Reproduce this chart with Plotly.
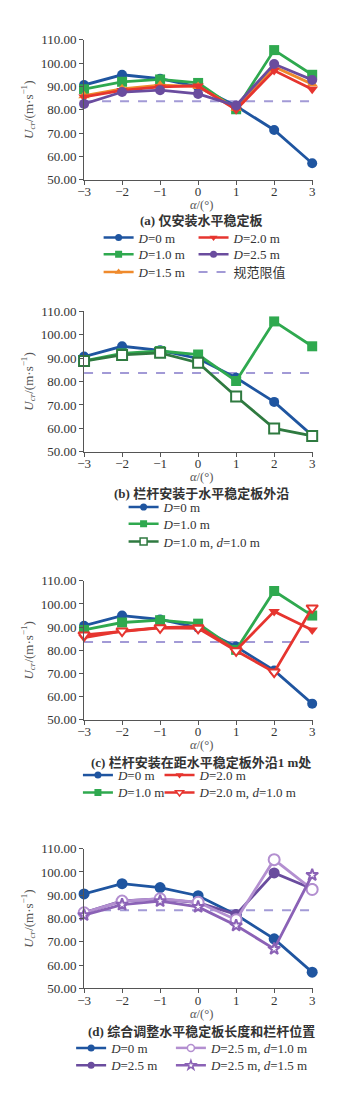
import plotly.graph_objects as go

# ---------------- data ----------------
alpha = [-3, -2, -1, 0, 1, 2, 3]
y_ticks = [50, 60, 70, 80, 90, 100, 110]
x_ticks = [-3, -2, -1, 0, 1, 2, 3]
limit_value = 83.6

D0 = [90.6, 95.0, 93.3, 89.8, 81.6, 71.3, 57.0]
D1 = [88.8, 92.0, 93.0, 91.5, 80.2, 105.6, 95.0]
D15 = [86.0, 89.0, 90.5, 90.0, 80.5, 98.5, 91.0]
D2 = [85.5, 88.3, 89.8, 90.2, 80.0, 96.8, 88.8]
D25 = [82.5, 87.6, 88.4, 86.8, 81.8, 99.6, 92.8]
D1_d1 = [88.7, 91.3, 92.2, 88.0, 73.6, 60.0, 56.8]
D2_d1 = [86.6, 88.3, 89.7, 89.5, 79.8, 70.6, 98.3]
D25_d1 = [82.5, 87.5, 88.5, 87.0, 79.5, 105.3, 92.5]
D25_d15 = [81.5, 86.0, 87.5, 85.0, 77.0, 67.0, 98.7]

captions = ["(a) 仅安装水平稳定板", "(b) 栏杆安装于水平稳定板外沿",
            "(c) 栏杆安装在距水平稳定板外沿1 m处", "(d) 综合调整水平稳定板长度和栏杆位置"]

# ---------------- style ----------------
W, H = 352, 1102
SERIF = "Liberation Serif, Noto Sans CJK SC"
BLUE = "#1f55a0"
GREEN = "#2fa94f"
ORANGE = "#ef8a2c"
RED = "#e6352f"
PURPLE = "#6a4c9e"
DASH = "#a29ad6"
DKGREEN = "#2f7a40"
LPURPLE = "#b38fd0"
SPURPLE = "#8b62b6"

# plot areas in pixel coords (top, bottom)
panels_px = [(33.3, 175.0), (308.3, 451.0), (581.7, 722.7), (853.3, 995.0)]
x_px = (79.3, 314.5)
xtitle_y = [200.5, 476.5, 748.2, 1021.0]
caption_y = [216.5, 493.5, 766.0, 1038.5]

fig = go.Figure()

def px2x(p):
    return p / W

def px2y(p):
    return 1 - p / H

# series definitions per panel: (name, y, color, symbol, open, legend_pos)
panel_series = [
    [
        ("<i>D</i>=0 m", D0, BLUE, "circle", False, (137.3, 235.7)),
        ("<i>D</i>=1.0 m", D1, GREEN, "square", False, (137.3, 252.8)),
        ("<i>D</i>=1.5 m", D15, ORANGE, "triangle-up", False, (137.3, 270.7)),
        ("<i>D</i>=2.0 m", D2, RED, "triangle-down", False, (235.0, 235.7)),
        ("<i>D</i>=2.5 m", D25, PURPLE, "circle", False, (235.0, 252.8)),
    ],
    [
        ("<i>D</i>=0 m", D0, BLUE, "circle", False, (163.0, 509.0)),
        ("<i>D</i>=1.0 m", D1, GREEN, "square", False, (163.0, 526.0)),
        ("<i>D</i>=1.0 m, <i>d</i>=1.0 m", D1_d1, DKGREEN, "square-open", True, (163.0, 544.0)),
    ],
    [
        ("<i>D</i>=0 m", D0, BLUE, "circle", False, (116.0, 780.7)),
        ("<i>D</i>=1.0 m", D1, GREEN, "square", False, (116.0, 798.3)),
        ("<i>D</i>=2.0 m", D2, RED, "triangle-down", False, (200.0, 780.7)),
        ("<i>D</i>=2.0 m, <i>d</i>=1.0 m", D2_d1, RED, "triangle-down-open", True, (200.0, 798.3)),
    ],
    [
        ("<i>D</i>=0 m", D0, BLUE, "circle", False, (109.0, 1057.3)),
        ("<i>D</i>=2.5 m", D25, PURPLE, "circle", False, (109.0, 1075.0)),
        ("<i>D</i>=2.5 m, <i>d</i>=1.0 m", D25_d1, LPURPLE, "circle-open", True, (211.7, 1057.3)),
        ("<i>D</i>=2.5 m, <i>d</i>=1.5 m", D25_d15, SPURPLE, "star-open", True, (211.7, 1075.0)),
    ],
]

legend_count = [0]
legend_layouts = {}

def new_legend(text_x, row_y):
    legend_count[0] += 1
    n = legend_count[0]
    key = "legend" if n == 1 else f"legend{n}"
    legend_layouts[key] = dict(
        x=px2x(text_x - 43), y=px2y(row_y - 2), xanchor="left", yanchor="middle",
        bgcolor="rgba(0,0,0,0)", borderwidth=0, itemwidth=30,
        font=dict(family=SERIF, size=13, color="#333333"),
        tracegroupgap=0, itemclick=False, itemdoubleclick=False,
    )
    return key

for i, series in enumerate(panels_px):
    top, bot = series
    ax = "" if i == 0 else str(i + 1)
    xa, ya = "x" + ax, "y" + ax
    tick_ax = str(i + 5)          # overlay axis that only draws the outside tick marks
    # limit line
    fig.add_trace(go.Scatter(
        x=[alpha[0], alpha[-1] + 0.2], y=[limit_value, limit_value], mode="lines",
        line=dict(color=DASH, width=2, dash="dash"), xaxis=xa, yaxis=ya,
        showlegend=False, hoverinfo="skip", cliponaxis=False))
    for name, yv, col, sym, is_open, lpos in panel_series[i]:
        if "star" in sym:
            msize = 9
        elif i == 3:
            msize = 11
        else:
            msize = 10
        fig.add_trace(go.Scatter(
            x=alpha, y=yv, mode="lines+markers", xaxis=xa, yaxis=ya,
            line=dict(color=col, width=2.8),
            marker=dict(symbol=sym.replace("-open", ""), size=msize,
                        color="white" if is_open else col,
                        line=dict(color=col, width=2 if is_open else 0)),
            showlegend=False, cliponaxis=False, name=name))
        # legend-only entry
        key = new_legend(*lpos)
        fig.add_trace(go.Scatter(
            x=[None], y=[None], mode="lines+markers", xaxis=xa, yaxis=ya,
            line=dict(color=col, width=2.5),
            marker=dict(symbol=sym.replace("-open", ""), size=7,
                        color="white" if is_open else col,
                        line=dict(color=col, width=1.5 if is_open else 0)),
            name=name, legend=key, showlegend=True))
    if i == 0:
        key = new_legend(235.0, 270.7)
        fig.add_trace(go.Scatter(
            x=[None], y=[None], mode="lines", xaxis=xa, yaxis=ya,
            line=dict(color=DASH, width=2, dash="dash"),
            name="规范限值", legend=key, showlegend=True))
    # empty trace binding the tick-mark overlay axis
    fig.add_trace(go.Scatter(x=[None], y=[None], xaxis="x" + tick_ax, yaxis=ya,
                             showlegend=False, hoverinfo="skip"))

    axis_common = dict(showline=True, linecolor="#555555", linewidth=1,
                       showgrid=False, zeroline=False,
                       tickfont=dict(family=SERIF, size=13, color="#333333"))
    fig.layout["xaxis" + ax] = dict(
        domain=[px2x(x_px[0]), px2x(x_px[1])], range=[-3, 3.01], anchor=ya,
        ticks="", tickvals=x_ticks,
        ticktext=[("−" + str(-t)) if t < 0 else str(t) for t in x_ticks],
        **axis_common)
    fig.layout["xaxis" + tick_ax] = dict(
        domain=[px2x(x_px[0]), px2x(x_px[1])], range=[-3, 3.01], anchor=ya,
        overlaying=xa, side="bottom", ticks="outside", ticklen=4, tickcolor="#555555",
        tickvals=x_ticks, showticklabels=False, showline=False, showgrid=False,
        zeroline=False)
    fig.layout["yaxis" + ax] = dict(
        domain=[px2y(bot), px2y(top)], range=[50, 110], anchor=xa,
        ticks="outside", ticklen=4, tickcolor="#555555",
        tickvals=y_ticks, ticktext=[f"{t:.2f}" for t in y_ticks],
        title=dict(text="<i>U</i><sub><i>cr</i></sub>/(m·s<sup>−1</sup>)",
                   font=dict(family=SERIF, size=13, color="#555555"), standoff=4),
        **axis_common)
    # x axis title
    fig.add_annotation(
        text="<i>α</i>/(°)", x=200 / W, y=px2y(xtitle_y[i]),
        xref="paper", yref="paper", xanchor="center", yanchor="middle", showarrow=False,
        font=dict(family=SERIF, size=12.5, color="#555555"))
    fig.add_annotation(
        text="<b>" + captions[i] + "</b>", x=200 / W, y=px2y(caption_y[i]),
        xref="paper", yref="paper", xanchor="center", yanchor="middle", showarrow=False,
        font=dict(family=SERIF, size=13, color="#333333"))

fig.update_layout(width=W, height=H, margin=dict(l=0, r=0, t=0, b=0),
                  paper_bgcolor="white", plot_bgcolor="white", **legend_layouts)

fig.write_html("out.html")
